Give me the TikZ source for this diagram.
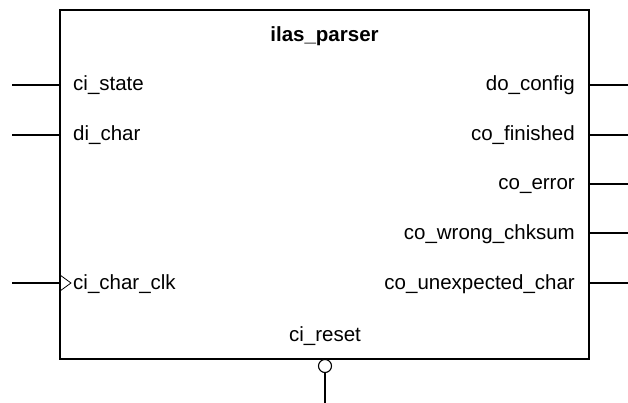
\documentclass[tikz,border=0pt]{standalone}
\usepackage{fontspec}
\setmainfont{Liberation Sans}
\usetikzlibrary{positioning}

\begin{document}
\begin{tikzpicture}[x=1pt,y=-1pt,
    port/.style={font=\fontsize{20.5}{24}\selectfont, inner sep=0pt},
    wire/.style={line width=1.1pt},
  ]
        \useasboundingbox (0,0) rectangle (628,403);
        % the block itself
        \node[draw, line width=2.6pt, minimum width=529pt, minimum height=349pt, inner sep=0pt, outer sep=0pt] (blk) at (324.5,184.5) {};
        \node[port, font=\fontsize{20.5}{24}\selectfont\bfseries, anchor=base] (title) at (324.5,42) {ilas\_parser};

        % inputs
        \coordinate (ci_state_in) at (12,85);
        \coordinate (di_char_in) at (12,135);
        \coordinate (ci_char_clk_in) at (12,283);
        \node[port, anchor=base west] (ci_state) at (73,91) {ci\_state};
        \node[port, anchor=base west] (di_char) at (73,141) {di\_char};
        \node[port, anchor=base west] (ci_char_clk) at (73,289) {ci\_char\_clk};
        \draw[wire] (ci_state_in) -- (blk.west |- ci_state_in);
        \draw[wire] (di_char_in) -- (blk.west |- di_char_in);
        \draw[wire] (ci_char_clk_in) -- (blk.west |- ci_char_clk_in);
        \draw[line width=0.8pt] ([yshift=8pt]blk.west |- ci_char_clk_in) -- ++(11,8) -- ++(-11,8);

        % outputs
        \coordinate (do_config_out) at (628,85);
        \coordinate (co_finished_out) at (628,135);
        \coordinate (co_error_out) at (628,184);
        \coordinate (co_wrong_chksum_out) at (628,233);
        \coordinate (co_unexpected_char_out) at (628,283);
        \node[port, anchor=base east] (do_config) at (575,91) {do\_config};
        \node[port, anchor=base east] (co_finished) at (575,141) {co\_finished};
        \node[port, anchor=base east] (co_error) at (575,190) {co\_error};
        \node[port, anchor=base east] (co_wrong_chksum) at (575,239) {co\_wrong\_chksum};
        \node[port, anchor=base east] (co_unexpected_char) at (575,289) {co\_unexpected\_char};
        \draw[wire] (blk.east |- do_config_out) -- (do_config_out);
        \draw[wire] (blk.east |- co_finished_out) -- (co_finished_out);
        \draw[wire] (blk.east |- co_error_out) -- (co_error_out);
        \draw[wire] (blk.east |- co_wrong_chksum_out) -- (co_wrong_chksum_out);
        \draw[wire] (blk.east |- co_unexpected_char_out) -- (co_unexpected_char_out);

        % active-low reset at the bottom
        \node[port, anchor=base] (ci_reset) at (325,341) {ci\_reset};
        \node[draw, circle, wire, minimum size=13pt, inner sep=0pt, fill=white] (rst_bubble) at (325,366) {};
        \coordinate (ci_reset_in) at (325,403);
        \draw[wire] (ci_reset_in) -- (rst_bubble.south);
    \end{tikzpicture}
\end{document}
